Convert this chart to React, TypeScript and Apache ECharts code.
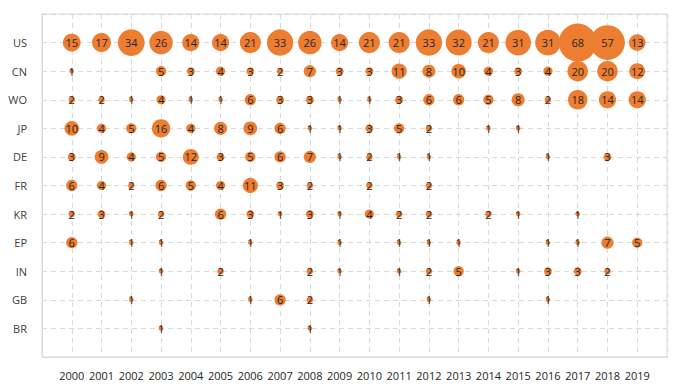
import React, { useEffect, useRef } from "react";
import * as echarts from "echarts";

const years = [2000, 2001, 2002, 2003, 2004, 2005, 2006, 2007, 2008, 2009, 2010, 2011, 2012, 2013, 2014, 2015, 2016, 2017, 2018, 2019];
const countries = ["US", "CN", "WO", "JP", "DE", "FR", "KR", "EP", "IN", "GB", "BR"];

const US = [15, 17, 34, 26, 14, 14, 21, 33, 26, 14, 21, 21, 33, 32, 21, 31, 31, 68, 57, 13];
const CN = [1, 0, 0, 5, 3, 4, 3, 2, 7, 3, 3, 11, 8, 10, 4, 3, 4, 20, 20, 12];
const WO = [2, 2, 1, 4, 1, 1, 6, 3, 3, 1, 1, 3, 6, 6, 5, 8, 2, 18, 14, 14];
const JP = [10, 4, 5, 16, 4, 8, 9, 6, 1, 1, 3, 5, 2, 0, 1, 1, 0, 0, 0, 0];
const DE = [3, 9, 4, 5, 12, 3, 5, 6, 7, 1, 2, 1, 1, 0, 0, 0, 1, 0, 3, 0];
const FR = [6, 4, 2, 6, 5, 4, 11, 3, 2, 0, 2, 0, 2, 0, 0, 0, 0, 0, 0, 0];
const KR = [2, 3, 1, 2, 0, 6, 3, 1, 3, 1, 4, 2, 2, 0, 2, 1, 0, 1, 0, 0];
const EP = [6, 0, 1, 1, 0, 0, 1, 0, 0, 1, 0, 1, 1, 1, 0, 0, 1, 1, 7, 5];
const IN = [0, 0, 0, 1, 0, 2, 0, 0, 2, 1, 0, 1, 2, 5, 0, 1, 3, 3, 2, 0];
const GB = [0, 0, 1, 0, 0, 0, 1, 6, 2, 0, 0, 0, 1, 0, 0, 0, 1, 0, 0, 0];
const BR = [0, 0, 0, 1, 0, 0, 0, 0, 1, 0, 0, 0, 0, 0, 0, 0, 0, 0, 0, 0];

const rows = [US, CN, WO, JP, DE, FR, KR, EP, IN, GB, BR];

export default function App() {
  const ref = useRef<HTMLDivElement>(null);
  useEffect(() => {
    if (!ref.current) return;
    const chart = echarts.init(ref.current, null, { renderer: "svg" });
    const data: number[][] = [];
    rows.forEach((vals, r) => {
      const yv = countries.length - 1 - r;
      vals.forEach((v, i) => {
        if (v > 0) data.push([years[i], yv, v]);
      });
    });
    const font = "'Open Sans', 'Noto Sans', sans-serif";
    chart.setOption({
      animation: false,
      grid: {
        left: 42,
        top: 14,
        right: 22,
        bottom: 31,
        show: true,
        borderColor: "#D9D9D9",
        borderWidth: 1,
      },
      xAxis: {
        type: "value",
        min: 1999,
        max: 2020,
        interval: 1,
        axisLine: { show: true, onZero: false, lineStyle: { color: "#D9D9D9" } },
        axisTick: { show: false },
        axisLabel: {
          margin: 13,
          fontSize: 11,
          fontFamily: font,
          color: "#262626",
          formatter: (v: number) => (v >= years[0] && v <= years[years.length - 1] ? String(v) : ""),
        },
        splitLine: { show: true, lineStyle: { color: "#D9D9D9", type: [5, 4], width: 1 } },
      },
      yAxis: {
        type: "value",
        min: -1,
        max: 11,
        interval: 1,
        axisLine: { show: true, onZero: false, lineStyle: { color: "#D9D9D9" } },
        axisTick: { show: false },
        axisLabel: {
          margin: 15,
          fontSize: 11,
          fontFamily: font,
          color: "#404040",
          formatter: (v: number) => {
            const idx = countries.length - 1 - v;
            return idx >= 0 && idx < countries.length ? countries[idx] : "";
          },
        },
        splitLine: { show: true, lineStyle: { color: "#D9D9D9", type: [5, 4], width: 1 } },
      },
      series: [
        {
          type: "scatter",
          data,
          symbolSize: (d: number[]) => 4.6 * Math.sqrt(d[2]),
          itemStyle: { color: "#ED7D31", opacity: 1 },
          label: {
            show: true,
            position: "inside",
            formatter: (p: any) => String(p.value[2]),
            fontSize: 11,
            fontFamily: font,
            color: "#262626",
          },
        },
      ],
    });
    return () => chart.dispose();
  }, []);
  return <div ref={ref} style={{ width: 689, height: 388, position: "absolute", left: 0, top: 0 }} />;
}
